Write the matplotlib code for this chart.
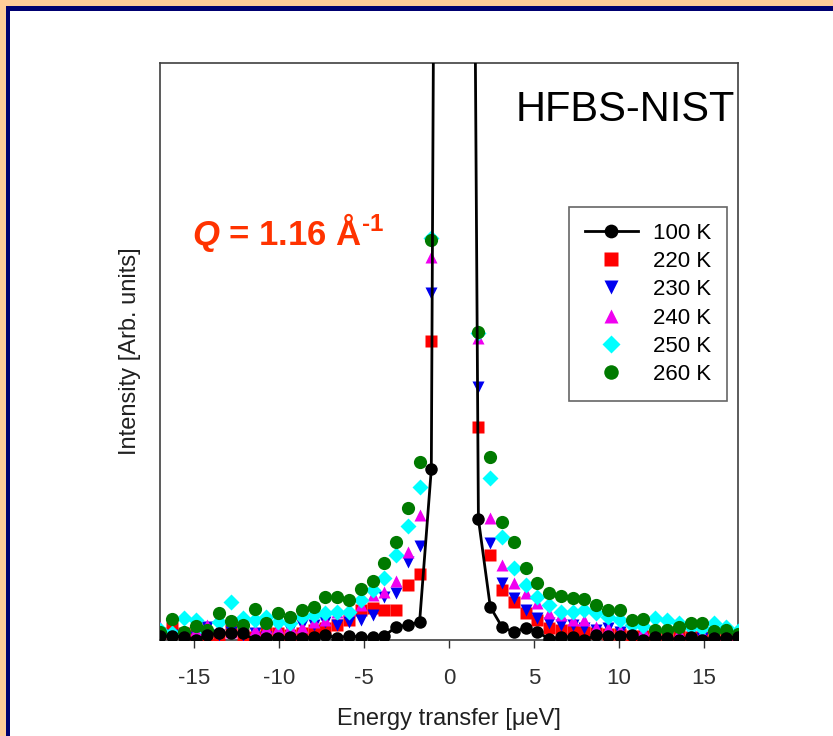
import matplotlib
matplotlib.use('Agg')
import matplotlib.pyplot as plt
from matplotlib.patches import Rectangle

plt.rcParams['font.family'] = ['Liberation Sans', 'DejaVu Sans']
plt.rcParams['axes.unicode_minus'] = False
plt.rcParams['mathtext.fontset'] = 'custom'
plt.rcParams['mathtext.it'] = 'Liberation Sans:italic:bold'
plt.rcParams['mathtext.rm'] = 'Liberation Sans:bold'
plt.rcParams['mathtext.bf'] = 'Liberation Sans:bold'

# energy transfer grid [ueV]
energy = [-16.98, -16.29, -15.59, -14.90, -14.21, -13.51, -12.82, -12.13, -11.43, -10.74,
          -10.05, -9.36, -8.66, -7.97, -7.28, -6.58, -5.89, -5.20, -4.50, -3.81,
          -3.12, -2.43, -1.73, -1.04, -0.35, 0.35, 1.04, 1.73, 2.43, 3.12,
          3.81, 4.50, 5.20, 5.89, 6.58, 7.28, 7.97, 8.66, 9.36, 10.05,
          10.74, 11.43, 12.13, 12.82, 13.51, 14.21, 14.90, 15.59, 16.29, 16.98]

# intensities (arb. units), elastic peak goes far off scale
i_100 = [4, 4, 3, 0, 5, 7, 7, 7, 0, 2, 2, 3, 2, 3, 5, 2, 4, 3, 3, 4, 13, 15, 18, 171,
         2540, 3240, 1900,
         121, 33, 13, 8, 12, 8, 1, 3, 3, 0, 5, 4, 4, 5, 0, 3, 2, 0, 3, 0, 2, 2, 3]
i_220 = [7, 12, 7, 5, 2, 1, 10, 5, 3, 7, 7, 5, 7, 10, 12, 15, 20, 30, 32, 30, 30, 55, 66, 299,
         900, 1300, 800,
         213, 85, 50, 38, 27, 20, 12, 10, 10, 8, 7, 6, 6, 4, 4, 4, 4, 4, 3, 3, 3, 3, 3]
i_230 = [0, 5, 4, 3, 13, 5, 8, 5, 7, 3, 13, 10, 15, 15, 18, 15, 18, 20, 25, 43, 47, 78, 94, 347,
         1100, 1500, 950,
         253, 97, 57, 42, 30, 22, 17, 15, 15, 12, 10, 12, 8, 10, 8, 5, 5, 7, 7, 2, 2, 3, 2]
i_240 = [13, 8, 8, 10, 15, 13, 8, 10, 10, 12, 12, 13, 13, 18, 20, 28, 30, 35, 45, 48, 59, 88, 125, 383,
         1200, 1700, 1050,
         302, 122, 75, 57, 47, 37, 27, 25, 20, 20, 13, 12, 10, 10, 10, 10, 8, 8, 8, 7, 7, 6, 6]
i_250 = [10, 7, 22, 20, 8, 18, 38, 22, 20, 23, 18, 17, 23, 25, 27, 28, 28, 40, 50, 62, 85, 114, 153, 402,
         1300, 1800, 1100,
         307, 162, 103, 72, 55, 43, 35, 28, 28, 30, 27, 23, 20, 15, 14, 22, 20, 17, 13, 12, 17, 13, 9]
i_260 = [8, 21, 8, 14, 10, 27, 19, 15, 31, 17, 27, 23, 30, 33, 43, 43, 40, 51, 59, 77, 98, 132, 178, 400,
         1300, 1800, 1100,
         308, 183, 118, 98, 72, 57, 47, 44, 42, 41, 35, 30, 30, 20, 21, 10, 10, 13, 17, 17, 9, 10, 6]

fig = plt.figure(figsize=(8.33, 7.36), dpi=100)
fig.patch.set_facecolor('#FFCC99')
fig.patches.append(Rectangle((6/833, 0), 1, (736-6)/736, transform=fig.transFigure,
                             facecolor='#000070', edgecolor='none', zorder=-2))
fig.patches.append(Rectangle((10/833, 0), 1, (736-11)/736, transform=fig.transFigure,
                             facecolor='white', edgecolor='none', zorder=-1))

ax = fig.add_axes([160/833, 1-640/736, 578/833, 577/736])
ax.set_facecolor('none')

ms = 9
ax.plot(energy, i_220, 's', color='#FF0000', ms=ms, mec='none', label='220 K', zorder=3)
ax.plot(energy, i_230, 'v', color='#0000F0', ms=ms, mec='none', label='230 K', zorder=3)
ax.plot(energy, i_240, '^', color='#F000F0', ms=ms, mec='none', label='240 K', zorder=3)
ax.plot(energy, i_250, 'D', color='#00FFFF', ms=ms-1, mec='none', label='250 K', zorder=3)
ax.plot(energy, i_260, 'o', color='#007A00', ms=ms+0.5, mec='none', label='260 K', zorder=3)
ax.plot(energy, i_100, '-o', color='black', lw=2, ms=ms, mec='none', label='100 K', zorder=4)

ax.set_xlim(-17, 17)
ax.set_ylim(0, 577)
ax.set_xticks([-15, -10, -5, 0, 5, 10, 15])
ax.set_yticks([])
ax.tick_params(axis='x', direction='out', length=6, width=1, labelsize=16, pad=14, colors='#303030')
for s in ax.spines.values():
    s.set_color('#404040')
    s.set_linewidth(1.2)

ax.set_xlabel('Energy transfer [μeV]', fontsize=17, color='#202020', labelpad=14)
ax.set_ylabel('Intensity [Arb. units]', fontsize=17, color='#202020', labelpad=14)

handles, labels = ax.get_legend_handles_labels()
order = [5, 0, 1, 2, 3, 4]
leg = ax.legend([handles[i] for i in order], [labels[i] for i in order],
                loc='upper left', bbox_to_anchor=(0.7076, 0.7504), borderaxespad=0,
                fontsize=16, frameon=True, fancybox=False, edgecolor='#404040',
                handlelength=2.4, labelspacing=0.33, borderpad=0.7, handletextpad=0.7,
                markerscale=1.1)
leg.get_frame().set_linewidth(1.2)

ax.text(0.616, 0.9185, 'HFBS-NIST', transform=ax.transAxes, fontsize=30,
        ha='left', va='center', color='black')
ax.text(0.055, 0.707, r'$Q$ = 1.16 Å$^{\text{-1}}$', transform=ax.transAxes, fontsize=25,
        fontweight='bold', ha='left', va='center', color='#FF3300')

fig.savefig('out.png', dpi=100, facecolor=fig.get_facecolor())
